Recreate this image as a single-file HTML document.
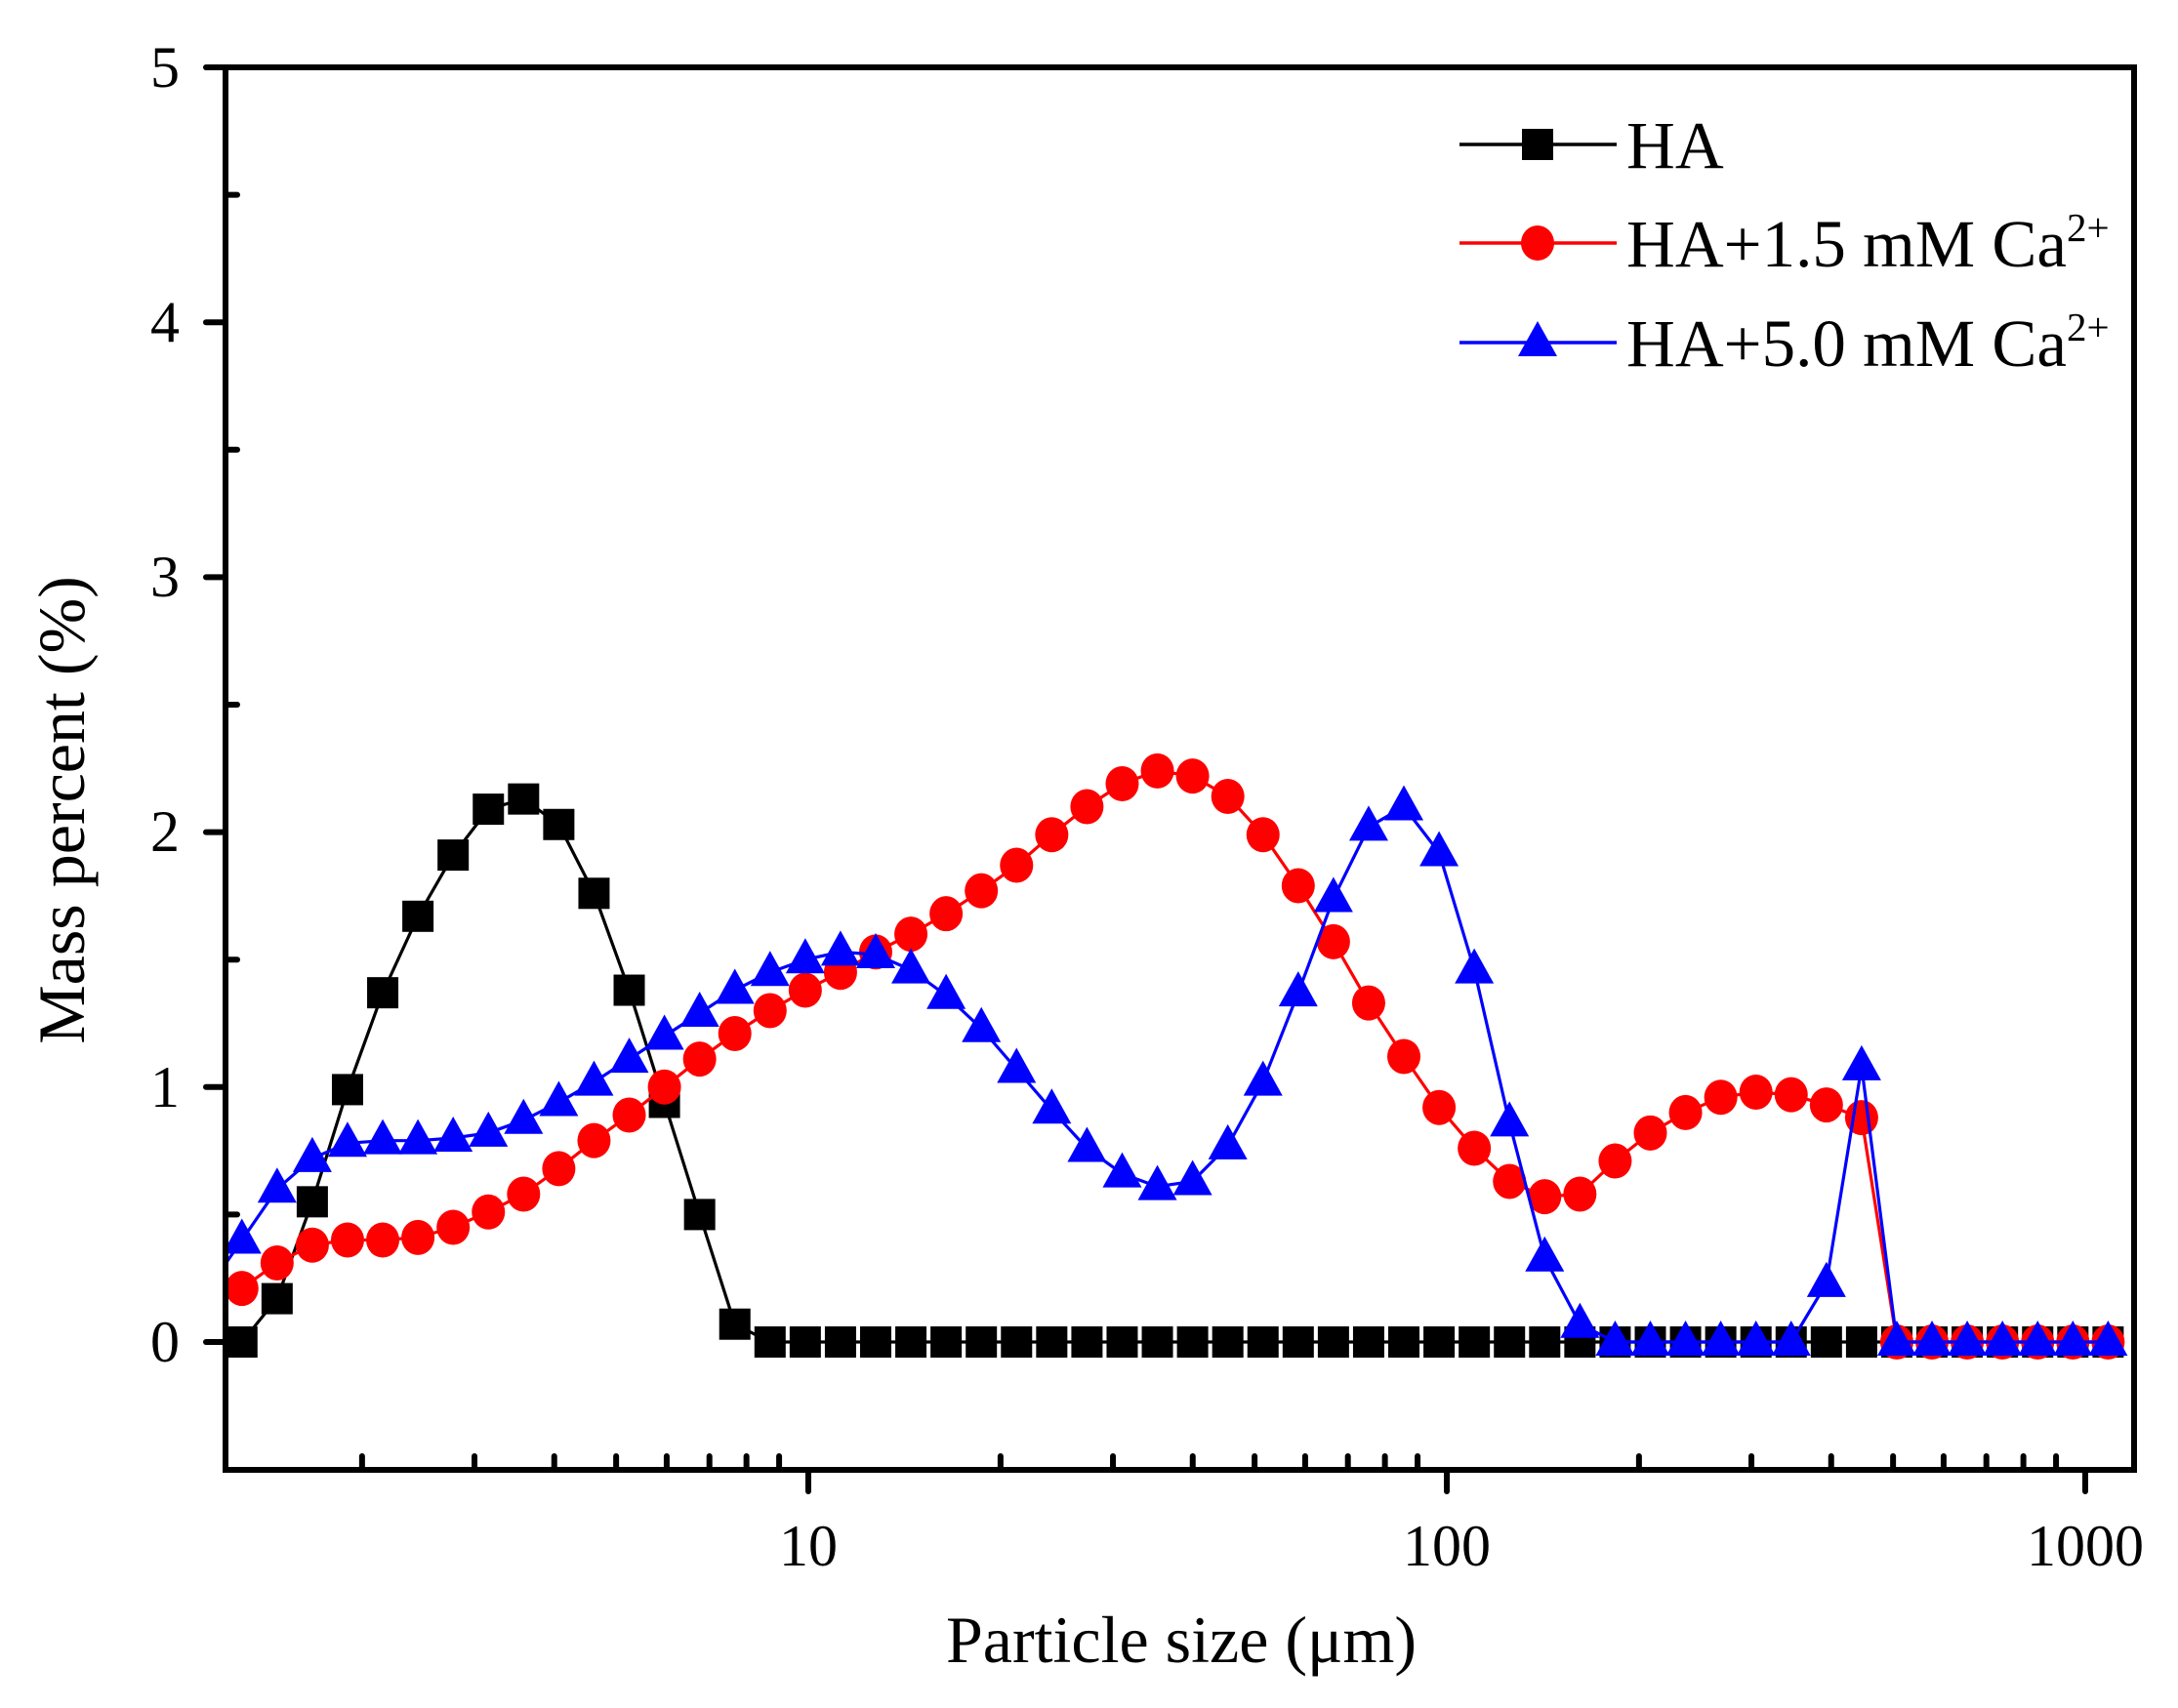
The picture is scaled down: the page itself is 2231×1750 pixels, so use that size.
<!DOCTYPE html>
<html><head><meta charset="utf-8"><style>
html,body{margin:0;padding:0;background:#fff;}
svg{display:block;}
text{font-family:"Liberation Serif","Times New Roman",serif;fill:#000;}
</style></head><body>
<svg id="s" width="2231" height="1750" viewBox="0 0 2231 1750" xmlns="http://www.w3.org/2000/svg">
<defs><clipPath id="cp"><rect x="231" y="69" width="1955" height="1437"/></clipPath></defs>
<g id="data" clip-path="url(#cp)"></g>
<g id="axes" stroke="#000" stroke-width="6" fill="none" stroke-linecap="round">
<rect x="231" y="69" width="1955" height="1437"/>
</g>
<g font-size="60" text-anchor="end">
<text x="184" y="89">5</text>
<text x="184" y="350">4</text>
<text x="184" y="611">3</text>
<text x="184" y="872">2</text>
<text x="184" y="1134">1</text>
<text x="184" y="1395">0</text>
</g>
<g font-size="60" text-anchor="middle">
<text x="828" y="1604">10</text>
<text x="1482" y="1604">100</text>
<text x="2136" y="1604">1000</text>
</g>
<text x="1210" y="1703" font-size="68" text-anchor="middle">Particle size (μm)</text>
<text transform="translate(86,830) rotate(-90)" font-size="68" text-anchor="middle">Mass percent (%)</text>
<g id="leg"></g>
<g font-size="69">
<text x="1666" y="172">HA</text>
<text x="1666" y="273">HA+1.5 mM Ca<tspan font-size="41" dy="-26">2+</tspan></text>
<text x="1666" y="375">HA+5.0 mM Ca<tspan font-size="41" dy="-26">2+</tspan></text>
</g>
</svg>
<script>
var NS="http://www.w3.org/2000/svg";
function el(p,t,a){var e=document.createElementNS(NS,t);for(var k in a)e.setAttribute(k,a[k]);p.appendChild(e);return e;}
var L=231,R=2186,T=69,B=1506;
function X(v){return 828+(Math.log10(v)-1)*654;}
function Y(v){return 1375-v*261.2;}
var ax=document.getElementById('axes');
for(var i=0;i<=5;i++){var y=Y(i);el(ax,'line',{x1:L-20,y1:y,x2:L,y2:y});}
for(var i=0;i<5;i++){var y=Y(i+0.5);el(ax,'line',{x1:L,y1:y,x2:L+12,y2:y});}
[10,100,1000].forEach(function(d){var x=X(d);el(ax,'line',{x1:x,y1:B,x2:x,y2:B+22});});
[1,10,100].forEach(function(d){for(var m=2;m<=9;m++){var x=X(d*m);if(x>L&&x<R)el(ax,'line',{x1:x,y1:B,x2:x,y2:B-14});}});
var ha=[0,0.17,0.55,0.99,1.37,1.67,1.91,2.09,2.13,2.03,1.76,1.38,0.94,0.50,0.07];
var red=[0.21,0.31,0.38,0.40,0.40,0.41,0.45,0.51,0.58,0.68,0.79,0.89,1.00,1.11,1.21,1.30,1.38,1.45,1.53,1.60,1.68,1.77,1.87,1.99,2.10,2.19,2.24,2.22,2.14,1.99,1.79,1.57,1.33,1.12,0.92,0.76,0.63,0.57,0.58,0.71,0.82,0.90,0.96,0.98,0.97,0.93,0.88];
var blue=[0.40,0.60,0.72,0.78,0.79,0.79,0.80,0.82,0.87,0.94,1.02,1.11,1.20,1.29,1.38,1.45,1.50,1.53,1.52,1.46,1.36,1.23,1.07,0.91,0.76,0.66,0.61,0.63,0.77,1.02,1.37,1.74,2.02,2.10,1.92,1.46,0.86,0.33,0.07,0,0,0,0,0,0,0.23,1.08];
function full(a){var r=a.slice();while(r.length<54)r.push(0);return r;}
ha=full(ha);red=full(red);blue=full(blue);
function px(i){return 828+(0.1128+0.05515*i-1)*654;}
var g=document.getElementById('data');
function series(vals,pre,col,mk){
 var pts=[];if(pre!==null)pts.push([px(-1),Y(pre)]);
 vals.forEach(function(v,i){pts.push([px(i),Y(v)]);});
 el(g,'polyline',{points:pts.map(function(p){return p[0].toFixed(1)+','+p[1].toFixed(1)}).join(' '),fill:'none',stroke:col,'stroke-width':3.2});
 vals.forEach(function(v,i){mk(g,px(i),Y(v),col);});
}
function sq(p,x,y,c){el(p,'rect',{x:x-16,y:y-16,width:32,height:32,fill:c});}
function ci(p,x,y,c){el(p,'ellipse',{cx:x,cy:y,rx:17,ry:18,fill:c});}
function tr(p,x,y,c){el(p,'polygon',{points:(x)+','+(y-22)+' '+(x-20)+','+(y+14)+' '+(x+20)+','+(y+14),fill:c});}
series(ha,null,'#000',sq);
series(red,0.12,'#f00',ci);
series(blue,0.2,'#00f',tr);
var lg=document.getElementById('leg');
[[148,'#000',sq],[249,'#f00',ci],[351,'#00f',tr]].forEach(function(d){
 el(lg,'line',{x1:1495,y1:d[0],x2:1656,y2:d[0],stroke:d[1],'stroke-width':3.5});
 d[2](lg,1575,d[0],d[1]);
});
</script>
</body></html>
